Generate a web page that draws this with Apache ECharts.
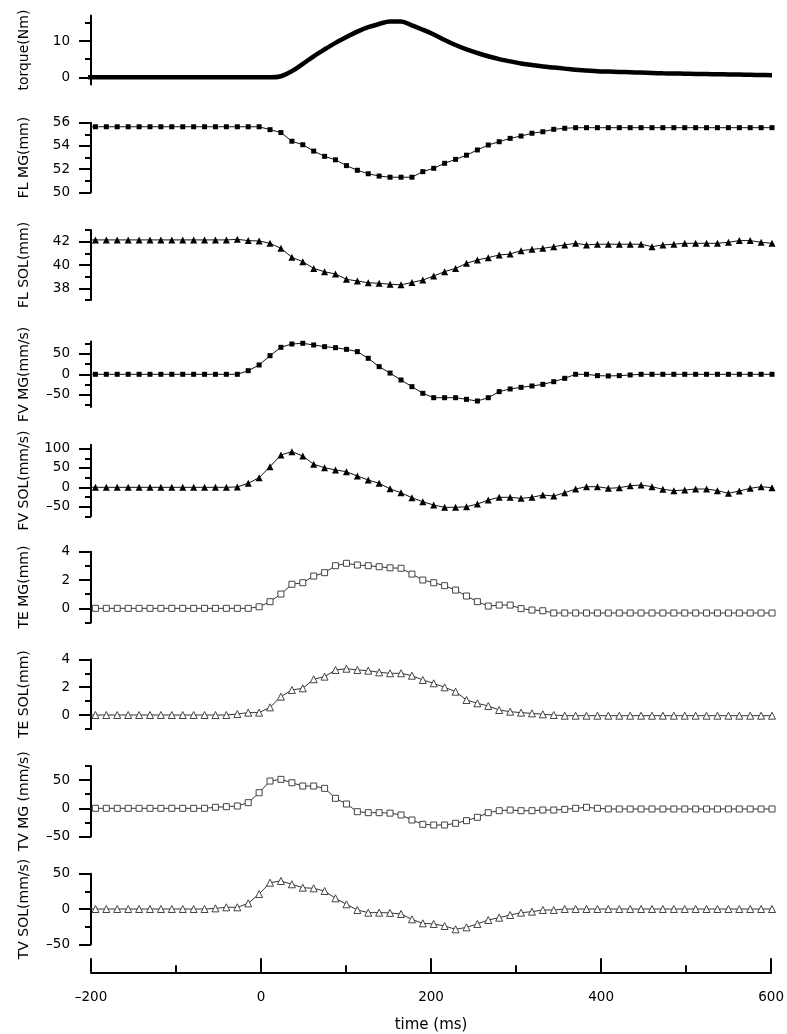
<!DOCTYPE html>
<html>
<head>
<meta charset="utf-8">
<script src="https://cdn.jsdelivr.net/npm/echarts@6/dist/echarts.min.js"></script>
<style>
  html, body { margin: 0; padding: 0; background: #fff; }
  #chart { width: 787px; height: 1034px; }
</style>
</head>
<body>
<div id="chart"></div>
<script>
// Sample times (ms) of the ultrasound frames; the first one lies just before the plotted window.
const times = [
  -207.6, -194.8, -182.0, -169.2, -156.3, -143.5, -130.7, -117.9, -105.1, -92.2, -79.4,
  -66.6, -53.8, -41.0, -28.1, -15.3, -2.5, 10.3, 23.1, 36.0, 48.8, 61.6, 74.4, 87.2,
  100.1, 112.9, 125.7, 138.5, 151.3, 164.2, 177.0, 189.8, 202.6, 215.4, 228.3, 241.1,
  253.9, 266.7, 279.5, 292.4, 305.2, 318.0, 330.8, 343.6, 356.5, 369.3, 382.1, 394.9,
  407.7, 420.6, 433.4, 446.2, 459.0, 471.8, 484.7, 497.5, 510.3, 523.1, 535.9, 548.8,
  561.6, 574.4, 587.2, 600.0
];

// Joint torque (Nm)
const torque = [
  0, 0, 0, 0, 0, 0, 0, 0, 0, 0, 0, 0, 0, 0, 0, 0, 0,
  0.0, 0.3, 1.7, 3.7, 5.8, 7.7, 9.5, 11.1, 12.6, 13.8, 14.7, 15.4, 15.4, 14.3, 13.1,
  11.8, 10.3, 8.9, 7.7, 6.7, 5.8, 5.0, 4.4, 3.8, 3.4, 3.0, 2.7, 2.4, 2.1, 1.9, 1.7,
  1.6, 1.5, 1.4, 1.3, 1.2, 1.1, 1.05, 1.0, 0.95, 0.9, 0.85, 0.8, 0.75, 0.7, 0.65, 0.6
];

// Fascicle length, medial gastrocnemius (mm)
const flMG = [
  55.65, 55.65, 55.65, 55.65, 55.65, 55.65, 55.65, 55.65, 55.65, 55.65, 55.65, 55.65,
  55.65, 55.65, 55.65, 55.65, 55.65,
  55.4, 55.15, 54.4, 54.1, 53.55, 53.1, 52.8, 52.3, 51.9, 51.6, 51.4, 51.3, 51.3, 51.3,
  51.78, 52.07, 52.5, 52.84, 53.2, 53.65, 54.08, 54.36, 54.65, 54.85, 55.09, 55.22,
  55.43, 55.52,
  55.57, 55.57, 55.57, 55.57, 55.57, 55.57, 55.57, 55.57, 55.57, 55.57, 55.57, 55.57,
  55.57, 55.57, 55.57, 55.57, 55.57, 55.57, 55.57
];

// Fascicle length, soleus (mm)
const flSOL = [
  42.15, 42.15, 42.15, 42.15, 42.15, 42.15, 42.15, 42.15, 42.15, 42.15, 42.15, 42.15,
  42.15, 42.15,
  42.2, 42.09, 42.06, 41.86, 41.43, 40.66, 40.28, 39.71, 39.42, 39.23, 38.77, 38.63,
  38.48, 38.43, 38.35, 38.3, 38.51, 38.71, 39.06, 39.43, 39.71, 40.14, 40.43, 40.63,
  40.86, 40.94, 41.23, 41.34, 41.43, 41.57, 41.72, 41.86, 41.72, 41.78, 41.78, 41.78,
  41.78, 41.78, 41.57, 41.72, 41.78, 41.86, 41.86, 41.86, 41.86, 41.95, 42.09, 42.09,
  41.95, 41.86
];

// Fascicle velocity, medial gastrocnemius (mm/s)
const fvMG = [
  0, 0, 0, 0, 0, 0, 0, 0, 0, 0, 0, 0, 0, 0, 0,
  8.8, 22.7, 45.4, 65.8, 73.9, 75.6, 71.5, 67.4, 64.9, 60.9, 55.2, 39, 18.6, 3,
  -13.9, -30.1, -46.3, -57.1, -57.1, -57.1, -61.1, -65.1, -57.1, -42.3, -35.8, -31.8,
  -28.5, -24.5, -18, -9.8, 0, 0, -3.3, -4, -3.3, -1.6,
  0, 0, 0, 0, 0, 0, 0, 0, 0, 0, 0, 0, 0
];

// Fascicle velocity, soleus (mm/s)
const fvSOL = [
  0, 0, 0, 0, 0, 0, 0, 0, 0, 0, 0, 0, 0, 0, 1,
  10.4, 25, 53.4, 83.7, 92.2, 81.1, 59.6, 50.8, 44.8, 40.4, 29.3, 18.9, 10.4, -4,
  -14, -26.9, -37.3, -45.9, -51.8, -51.8, -50.3, -43.3, -32.9, -25.9, -25.9, -28.5,
  -25.9, -19.9, -22.5, -14, -4.4, 1.6, 1.6, -2.6, -1, 4.1, 6, 1.6, -5.2, -8.6, -7,
  -4.4, -4.4, -8.6, -15.5, -9.6, -2.6, 1.6, -1
];

// Tendon elongation, medial gastrocnemius (mm)
const teMG = [
  0, 0, 0, 0, 0, 0, 0, 0, 0, 0, 0, 0, 0, 0, 0, 0,
  0.11, 0.47, 1.01, 1.7, 1.81, 2.28, 2.52, 3.01, 3.18, 3.06, 3.01, 2.94, 2.86, 2.83,
  2.42, 2.0, 1.81, 1.6, 1.29, 0.87, 0.47, 0.16, 0.23, 0.23, -0.02, -0.12, -0.17,
  -0.33, -0.33, -0.33, -0.33, -0.33, -0.33, -0.33, -0.33, -0.33, -0.33, -0.33, -0.33,
  -0.33, -0.33, -0.33, -0.33, -0.33, -0.33, -0.33, -0.33, -0.33
];

// Tendon elongation, soleus (mm)
const teSOL = [
  0, 0, 0, 0, 0, 0, 0, 0, 0, 0, 0, 0, 0, 0,
  0.07, 0.17, 0.17, 0.55, 1.32, 1.8, 1.92, 2.57, 2.76, 3.24, 3.33, 3.24, 3.19, 3.07,
  3.0, 3.0, 2.83, 2.52, 2.28, 1.99, 1.68, 1.08, 0.84, 0.65, 0.36, 0.24, 0.17, 0.12,
  0.05, 0,
  -0.05, -0.05, -0.05, -0.05, -0.05, -0.05, -0.05, -0.05, -0.05, -0.05, -0.05, -0.05,
  -0.05, -0.05, -0.05, -0.05, -0.05, -0.05, -0.05, -0.05
];

// Tendon velocity, medial gastrocnemius (mm/s)
const tvMG = [
  0, 0, 0, 0, 0, 0, 0, 0, 0, 0, 0, 0,
  1.8, 2.9, 4.1, 10, 27.6, 48.2, 51.2, 45.2, 39.4, 39.4, 35.3, 17.7, 7.6, -6, -7.7,
  -7.7, -8.5, -11.8, -20.6, -28.3, -29.5, -29.5, -26.5, -21.8, -15.9, -7.7, -4.2, -3,
  -4.2, -4.2, -3, -3, -1.8, 0, 1.8, 0,
  -1.2, -1.2, -1.2, -1.2, -1.2, -1.2, -1.2, -1.2, -1.2, -1.2, -1.2, -1.2, -1.2, -1.2,
  -1.2, -1.2
];

// Tendon velocity, soleus (mm/s)
const tvSOL = [
  0, 0, 0, 0, 0, 0, 0, 0, 0, 0, 0, 0,
  0.9, 2.4, 2.4, 8, 21.2, 37.3, 39.7, 35, 30.2, 29.3, 25.5, 15.1, 6.6, -1.4, -5.2,
  -5.2, -5.5, -7.1, -14.6, -20.3, -21.2, -24.1, -28.8, -26, -21.2, -15.6, -12.3, -8.5,
  -5.2, -3.8, -1.4, -1.4,
  0, 0, 0, 0, 0, 0, 0, 0, 0, 0, 0, 0, 0, 0, 0, 0, 0, 0, 0, 0
];

// Labelled and unlabelled tick values of each panel's vertical axis
const torqueTicks = [0, 10],        torqueMinor = [5, 15];
const flMGTicks = [50, 52, 54, 56], flMGMinor = [51, 53, 55];
const flSOLTicks = [38, 40, 42],    flSOLMinor = [37, 39, 41, 43];
const fvMGTicks = [-50, 0, 50],     fvMGMinor = [-75, -25, 25, 75];
const fvSOLTicks = [-50, 0, 50, 100], fvSOLMinor = [-75, -25, 25, 75];
const teMGTicks = [0, 2, 4],        teMGMinor = [-1, 1, 3];
const teSOLTicks = [0, 2, 4],       teSOLMinor = [-1, 1, 3];
const tvMGTicks = [-50, 0, 50],     tvMGMinor = [-25, 25, 75];
const tvSOLTicks = [-50, 0, 50],    tvSOLMinor = [-25, 25];
const timeTicks = [-200, 0, 200, 400, 600];

const panels = [
  { name: 'torque(Nm)',    values: torque, min: -2,  max: 17,  ticks: torqueTicks, minor: torqueMinor, mark: 'none' },
  { name: 'FL MG(mm)',     values: flMG,   min: 50,  max: 56,  ticks: flMGTicks,   minor: flMGMinor,   mark: 'rect' },
  { name: 'FL SOL(mm)',    values: flSOL,  min: 37,  max: 43,  ticks: flSOLTicks,  minor: flSOLMinor,  mark: 'triangle' },
  { name: 'FV MG(mm/s)',   values: fvMG,   min: -80, max: 80,  ticks: fvMGTicks,   minor: fvMGMinor,   mark: 'rect' },
  { name: 'FV SOL(mm/s)',  values: fvSOL,  min: -75, max: 110, ticks: fvSOLTicks,  minor: fvSOLMinor,  mark: 'triangle' },
  { name: 'TE MG(mm)',     values: teMG,   min: -1,  max: 4,   ticks: teMGTicks,   minor: teMGMinor,   mark: 'openRect' },
  { name: 'TE SOL(mm)',    values: teSOL,  min: -1,  max: 4,   ticks: teSOLTicks,  minor: teSOLMinor,  mark: 'openTriangle' },
  { name: 'TV MG (mm/s)',  values: tvMG,   min: -50, max: 75,  ticks: tvMGTicks,   minor: tvMGMinor,   mark: 'openRect' },
  { name: 'TV SOL(mm/s)',  values: tvSOL,  min: -50, max: 50,  ticks: tvSOLTicks,  minor: tvSOLMinor,  mark: 'openTriangle' }
];

// Vertical placement of each panel: [top, height] in px
const panelBoxes = [
  [15.6, 69.0], [122.7, 69.6], [230.0, 70.0], [341.5, 65.6], [444.8, 71.5],
  [551.7, 70.8], [659.4, 69.5], [765.9, 70.7], [873.7, 70.6]
];

const FONT = 'DejaVu Sans';
const PLOT_LEFT = 91, PLOT_WIDTH = 681;
const minusFmt = v => String(v).replace('-', '\u2013');

const markStyles = {
  rect:         { symbol: 'rect',     size: 5, item: { color: '#000' }, line: '#111' },
  triangle:     { symbol: 'triangle', size: 7, item: { color: '#000' }, line: '#111' },
  openRect:     { symbol: 'rect',     size: 6, item: { color: '#fff', borderColor: '#444', borderWidth: 1 }, line: '#333' },
  openTriangle: { symbol: 'triangle', size: 7, item: { color: '#fff', borderColor: '#444', borderWidth: 1 }, line: '#333' }
};

const grid = [], xAxis = [], yAxis = [], series = [];

panels.forEach((p, k) => {
  const [top, height] = panelBoxes[k];
  grid.push({ left: PLOT_LEFT, width: PLOT_WIDTH, top: top, height: height });
  xAxis.push({ gridIndex: k, type: 'value', min: -200, max: 600, show: false });
  // labelled ticks + axis line
  yAxis.push({
    gridIndex: k, type: 'value', position: 'left', min: p.min, max: p.max,
    name: p.name, nameLocation: 'middle', nameGap: 60,
    nameTextStyle: { fontFamily: FONT, fontSize: 14, color: '#000' },
    axisLine: { show: true, onZero: false, lineStyle: { color: '#000', width: 2 } },
    axisTick: { show: true, length: 12, customValues: p.ticks, lineStyle: { color: '#000', width: 2 } },
    axisLabel: { customValues: p.ticks, margin: 21, fontFamily: FONT, fontSize: 13.5, color: '#000', formatter: minusFmt },
    splitLine: { show: false }
  });
  // unlabelled ticks
  yAxis.push({
    gridIndex: k, type: 'value', position: 'left', min: p.min, max: p.max,
    axisLine: { show: false, onZero: false },
    axisTick: { show: true, length: 6, customValues: p.minor, lineStyle: { color: '#000', width: 2 } },
    axisLabel: { show: false },
    splitLine: { show: false }
  });

  const pts = times.map((t, i) => (i === 0 ? { value: [t, p.values[i]], symbol: 'none' } : [t, p.values[i]]));

  if (p.mark === 'none') {
    series.push({
      type: 'line', xAxisIndex: k, yAxisIndex: 2 * k, data: pts,
      showSymbol: false, smooth: 0.35, clip: true,
      lineStyle: { color: '#000', width: 4.5 }
    });
  } else {
    const m = markStyles[p.mark];
    series.push({
      type: 'line', xAxisIndex: k, yAxisIndex: 2 * k, data: pts,
      symbol: m.symbol, symbolSize: m.size, showSymbol: true, clip: true,
      itemStyle: m.item,
      lineStyle: { color: m.line, width: 1 }
    });
  }
});

// Shared time axis along the bottom
const tk = panels.length;
grid.push({ left: PLOT_LEFT, width: PLOT_WIDTH, top: 958, height: 14.3 });
xAxis.push({
  gridIndex: tk, type: 'value', min: timeTicks[0], max: timeTicks[timeTicks.length - 1], interval: 200,
  position: 'bottom',
  name: 'time (ms)', nameLocation: 'middle', nameGap: 45,
  nameTextStyle: { fontFamily: FONT, fontSize: 15, color: '#000' },
  axisLine: { show: true, onZero: false, lineStyle: { color: '#000', width: 2 } },
  axisTick: { show: true, inside: true, length: 14, lineStyle: { color: '#000', width: 2 } },
  axisLabel: { margin: 18, fontFamily: FONT, fontSize: 13.5, color: '#000', formatter: minusFmt },
  splitLine: { show: false }
});
xAxis.push({
  gridIndex: tk, type: 'value', min: -200, max: 600, interval: 100, position: 'bottom',
  axisLine: { show: false, onZero: false },
  axisTick: { show: true, inside: true, length: 7, lineStyle: { color: '#000', width: 2 } },
  axisLabel: { show: false },
  splitLine: { show: false }
});
yAxis.push({ gridIndex: tk, type: 'value', show: false });

const chart = echarts.init(document.getElementById('chart'), null, { renderer: 'canvas' });
chart.setOption({
  animation: false,
  backgroundColor: '#fff',
  grid: grid,
  xAxis: xAxis,
  yAxis: yAxis,
  series: series
});
</script>
</body>
</html>
